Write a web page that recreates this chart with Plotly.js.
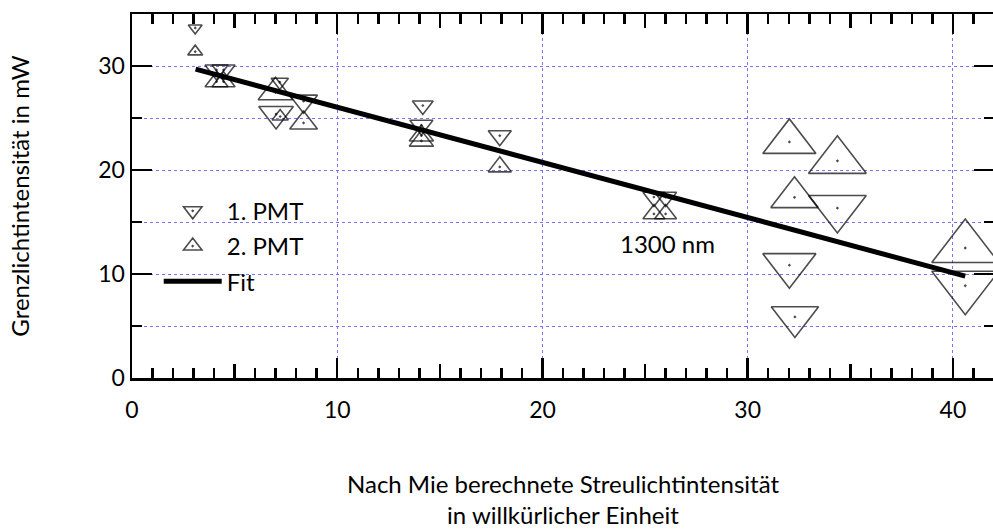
<!DOCTYPE html>
<html>
<head>
<meta charset="utf-8">
<script src="https://cdn.plot.ly/plotly-3.0.1.min.js"></script>
<style>
html,body{margin:0;padding:0;overflow:hidden;background:#fff;}
#chart{width:1000px;height:532px;}
</style>
</head>
<body>
<div id="chart"></div>
<script>
// 1. PMT (downward triangles)
const pmt1X = [3.08, 4.12, 4.46, 7.20, 7.02, 8.36, 14.17, 14.10, 17.92, 25.43, 26.00, 32.03, 34.37, 32.30, 40.60];
const pmt1Y = [33.66, 29.62, 29.62, 28.46, 25.38, 26.62, 26.20, 24.30, 23.30, 17.40, 17.40, 10.85, 16.34, 5.87, 8.87];
const pmt1Size = [12, 20, 20, 15, 30, 24, 18, 20, 20, 19, 19, 46, 50, 41, 58];

// 2. PMT (upward triangles)
const pmt2X = [3.08, 4.12, 4.46, 6.99, 7.22, 8.36, 14.10, 14.10, 17.92, 25.43, 26.00, 32.03, 34.37, 32.28, 40.60];
const pmt2Y = [31.38, 28.49, 28.49, 27.47, 25.14, 24.52, 23.30, 22.80, 20.30, 15.77, 15.77, 22.70, 20.88, 17.37, 12.50];
const pmt2Size = [13, 20, 20, 30, 14, 24, 21, 21, 20, 19, 19, 46, 50, 41, 58];

// Linear fit
const fitX = [3.1, 40.6];
const fitY = [29.7, 9.8];

// Axis ticks
const xTickStep = 10, xMinorStep = 1, xMidStep = 5;
const yTickStep = 10, yMinorStep = 5;

const labelText = '1300 nm';
const labelX = 26.1, labelY = 12.9;

const FONT = 'Lato, "Open Sans", "Noto Sans", sans-serif';
const GRID = '#7373ff';

const traces = [
  {
    x: pmt1X, y: pmt1Y, name: '1. PMT', type: 'scatter', mode: 'markers',
    legendgroup: 'a',
    marker: {symbol: 'triangle-down-open-dot', size: pmt1Size, color: '#000',
             line: {color: '#000', width: 1.6}},
    cliponaxis: false
  },
  {
    x: pmt2X, y: pmt2Y, name: '2. PMT', type: 'scatter', mode: 'markers',
    legendgroup: 'b',
    marker: {symbol: 'triangle-up-open-dot', size: pmt2Size, color: '#000',
             line: {color: '#000', width: 1.6}},
    cliponaxis: false
  },
  {
    x: fitX, y: fitY, name: 'Fit', type: 'scatter', mode: 'lines',
    legendgroup: 'c',
    line: {color: '#000', width: 5}
  },
  {
    x: [], y: [], xaxis: 'x2', yaxis: 'y', type: 'scatter', mode: 'markers',
    showlegend: false, hoverinfo: 'skip'
  }
];

const layout = {
  width: 1000, height: 532,
  margin: {l: 131.5, r: 5.5, t: 14, b: 153.7},
  paper_bgcolor: '#fff', plot_bgcolor: '#fff',
  font: {family: FONT, color: '#000', size: 24},
  showlegend: true,
  legend: {
    x: 0.031, y: 0.52, xanchor: 'left', yanchor: 'top',
    font: {family: FONT, size: 24, color: '#000'},
    itemwidth: 58, bgcolor: 'rgba(0,0,0,0)', borderwidth: 0,
    traceorder: 'grouped', tracegroupgap: 1
  },
  xaxis: {
    range: [0, 42], showline: true, linewidth: 2.5, linecolor: '#000',
    mirror: 'ticks', ticks: 'inside', ticklen: 20, tickwidth: 2.5, tickcolor: '#000',
    tick0: 0, dtick: xTickStep, zeroline: false,
    showgrid: true, gridcolor: GRID, gridwidth: 1, griddash: '3px,3px',
    tickfont: {family: FONT, size: 23, color: '#000'},
    ticklabelstandoff: 10,
    minor: {dtick: xMinorStep, tick0: 0, ticks: 'inside', ticklen: 10, tickwidth: 2.5,
            tickcolor: '#000', showgrid: false},
    title: {text: 'Nach Mie berechnete Streulichtintensität<br>in willkürlicher Einheit',
            font: {family: FONT, size: 24, color: '#000'}, standoff: 54}
  },
  xaxis2: {
    overlaying: 'x', matches: 'x', anchor: 'y', side: 'bottom',
    showline: false, mirror: 'ticks', ticks: 'inside', ticklen: 14, tickwidth: 2.5,
    tickcolor: '#000', tick0: 0, dtick: xMidStep, showgrid: false, zeroline: false,
    showticklabels: false
  },
  yaxis: {
    range: [0, 35], showline: true, linewidth: 2.5, linecolor: '#000',
    mirror: 'ticks', ticks: 'inside', ticklen: 20, tickwidth: 2.5, tickcolor: '#000',
    tick0: 0, dtick: yTickStep, zeroline: false,
    showgrid: true, gridcolor: GRID, gridwidth: 1, griddash: '3px,3px',
    tickfont: {family: FONT, size: 23, color: '#000'},
    ticklabelstandoff: 0,
    minor: {dtick: yMinorStep, tick0: 0, ticks: 'inside', ticklen: 10, tickwidth: 2.5,
            tickcolor: '#000', showgrid: true, gridcolor: GRID, gridwidth: 1, griddash: '3px,3px'},
    title: {text: 'Grenzlichtintensität in mW',
            font: {family: FONT, size: 24, color: '#000'}, standoff: 62}
  },
  annotations: [{
    x: labelX, y: labelY, xref: 'x', yref: 'y', text: labelText, showarrow: false,
    font: {family: FONT, size: 24, color: '#000'}
  }]
};

Plotly.newPlot('chart', traces, layout, {displayModeBar: false, staticPlot: true});
</script>
</body>
</html>
